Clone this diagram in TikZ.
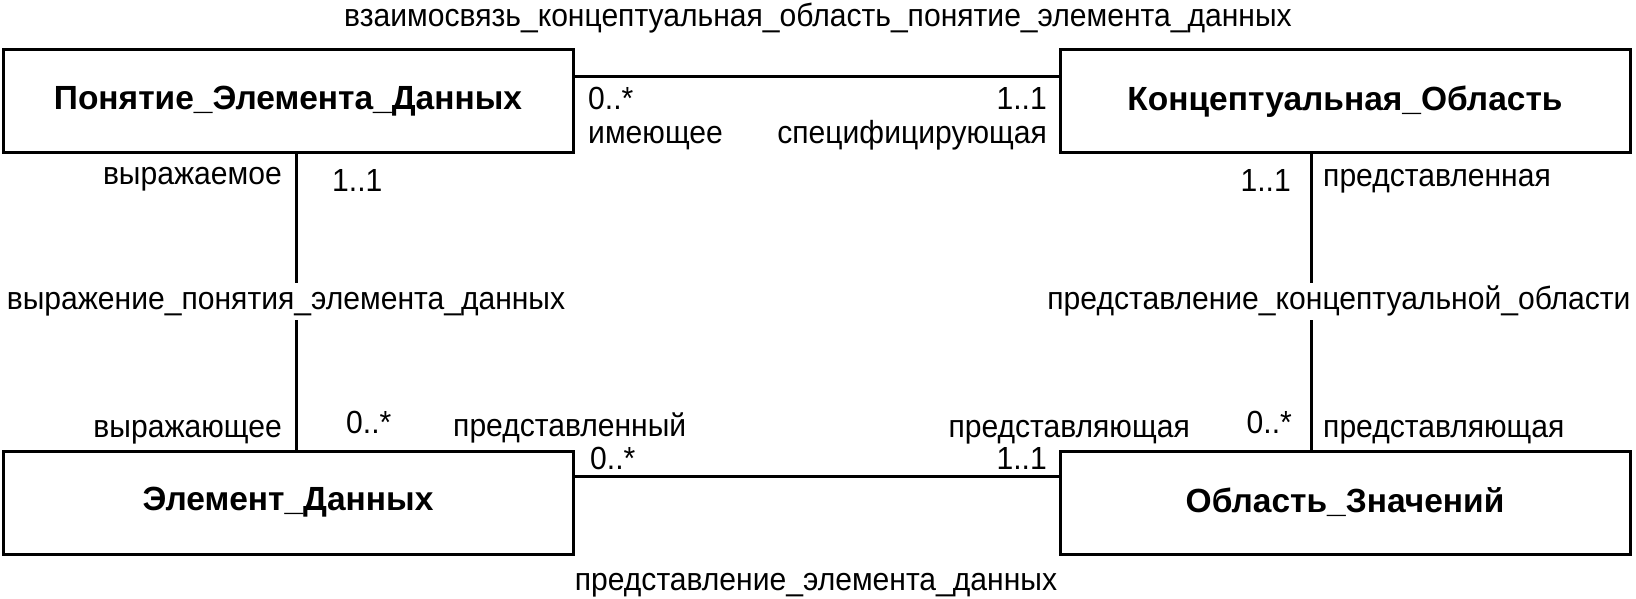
\documentclass[tikz,border=0pt]{standalone}
\usepackage{fontspec}
\setmainfont{Liberation Sans}[FakeStretch=0.94]
\newfontfamily\boxfont{Liberation Sans}
\begin{document}
\begin{tikzpicture}[x=1pt,y=-1pt,
  txt/.style={font=\fontsize{32}{38}\selectfont, inner sep=0pt},
  cls/.style={draw, line width=3pt, minimum width=570pt, minimum height=103pt,
    font=\boxfont\bfseries\fontsize{33.5}{40}\selectfont, inner sep=0pt},
  conn/.style={line width=3pt},
  gaplbl/.style={txt, fill=white, text height=23pt, text depth=8pt, inner ysep=3pt, inner xsep=0pt}]

\useasboundingbox[fill=white] (0,0) rectangle (1636,599);

% classes
\node[cls] (pe) at (288,101.5) {Понятие\_Элемента\_Данных};
\node[cls] (ko) at (1345,101.5) {Концептуальная\_Область};
\node[cls] (ed) at (288,502.5) {Элемент\_Данных};
\node[cls] (oz) at (1345,502.5) {Область\_Значений};

% associations
\draw[conn] ([yshift=24.5pt]pe.east) -- ([yshift=24.5pt]ko.west);
\draw[conn] ([yshift=26.5pt]ed.east) -- ([yshift=26.5pt]oz.west);
\draw[conn] ([xshift=8pt]pe.south) -- ([xshift=8pt]ed.north);
\draw[conn] ([xshift=-34pt]ko.south) -- ([xshift=-34pt]oz.north);

% association names
\node[txt, anchor=base] (a1) at (818,27) {взаимосвязь\_концептуальная\_область\_понятие\_элемента\_данных};
\node[gaplbl, anchor=base] (a2) at (286,309) {выражение\_понятия\_элемента\_данных};
\node[gaplbl, anchor=base] (a3) at (1339,309) {представление\_концептуальной\_области};
\node[txt, anchor=base] (a4) at (816,590) {представление\_элемента\_данных};

% roles and multiplicities
\node[txt, anchor=base west] (r1) at (588,110) {0..*};
\node[txt, anchor=base west] (r2) at (588,143) {имеющее};
\node[txt, anchor=base east] (r3) at (1047,110) {1..1};
\node[txt, anchor=base east] (r4) at (1047,143) {специфицирующая};
\node[txt, anchor=base east] (r5) at (282,185) {выражаемое};
\node[txt, anchor=base west] (r6) at (332,191) {1..1};
\node[txt, anchor=base east] (r7) at (1291,191) {1..1};
\node[txt, anchor=base west] (r8) at (1323,186) {представленная};
\node[txt, anchor=base east] (r9) at (282,437) {выражающее};
\node[txt, anchor=base west] (r10) at (346,433) {0..*};
\node[txt, anchor=base west] (r11) at (453,436) {представленный};
\node[txt, anchor=base east] (r12) at (1190,437) {представляющая};
\node[txt, anchor=base east] (r13) at (1292,433) {0..*};
\node[txt, anchor=base west] (r14) at (1323,437) {представляющая};
\node[txt, anchor=base west] (r15) at (590,469) {0..*};
\node[txt, anchor=base east] (r16) at (1047,469) {1..1};
\end{tikzpicture}
\end{document}
